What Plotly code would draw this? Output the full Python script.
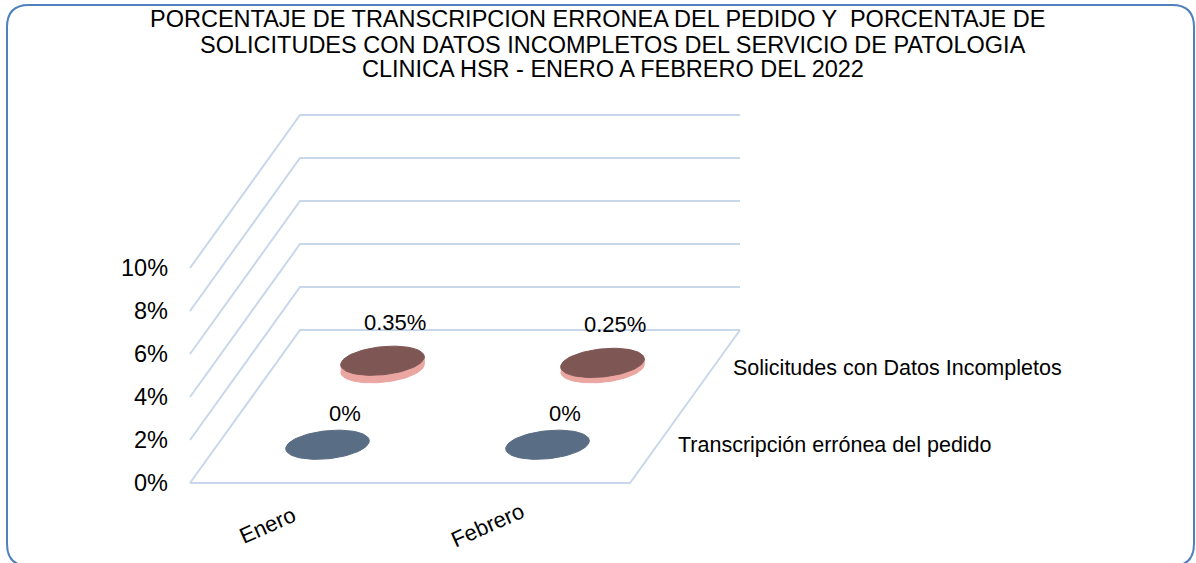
import numpy as np
import plotly.graph_objects as go

# ---------------- data ----------------
categories = ["Enero", "Febrero"]
series_names = ["Transcripción errónea del pedido", "Solicitudes con Datos Incompletos"]
transcripcion = [0.0, 0.0]      # percent
solicitudes = [0.35, 0.25]      # percent
labels_transcripcion = ["0%", "0%"]
labels_solicitudes = ["0.35%", "0.25%"]
y_ticks = [0, 2, 4, 6, 8, 10]
y_tick_labels = ["0%", "2%", "4%", "6%", "8%", "10%"]
title_lines = [
    "PORCENTAJE DE TRANSCRIPCION ERRONEA DEL PEDIDO Y  PORCENTAJE DE",
    "SOLICITUDES CON DATOS INCOMPLETOS DEL SERVICIO DE PATOLOGIA",
    "CLINICA HSR - ENERO A FEBRERO DEL 2022",
]

# ---------------- layout / projection constants ----------------
W, H = 1196, 563
X0_PX, Y0_PX = 190, 483          # pixel of the front-left floor corner
PX_PER_CAT = 220.0
PX_PER_PCT = 21.5
DEPTH_DX = 110.0 / PX_PER_CAT    # depth direction in data units (x)
DEPTH_DY = 153.0 / PX_PER_PCT    # depth direction in data units (y)
N_CAT = len(categories)

x_range = [-X0_PX / PX_PER_CAT, (W - X0_PX) / PX_PER_CAT]
y_range = [-(H - Y0_PX) / PX_PER_PCT, Y0_PX / PX_PER_PCT]


def proj(u, v, d):
    """category position u, value v (percent), depth d (0 front .. 1 back)"""
    return u + d * DEPTH_DX, v + d * DEPTH_DY


def ellipse(cx, cy, a_px=42, b_px=14, tilt_deg=6, t0=0, t1=2 * np.pi, n=80):
    t = np.linspace(t0, t1, n)
    th = np.radians(tilt_deg)
    dx = a_px * np.cos(t) * np.cos(th) - b_px * np.sin(t) * np.sin(th)
    dy = a_px * np.cos(t) * np.sin(th) + b_px * np.sin(t) * np.cos(th)
    return cx + dx / PX_PER_CAT, cy + dy / PX_PER_PCT


GRID = "#c8d7ea"
FONT = "Liberation Sans, Arial, sans-serif"

fig = go.Figure()

# gridlines (left wall + back wall)
for v in y_ticks:
    pts = [proj(0, v, 0), proj(0, v, 1), proj(N_CAT, v, 1)]
    fig.add_trace(go.Scatter(x=[p[0] for p in pts], y=[p[1] for p in pts], mode="lines",
                             line=dict(color=GRID, width=2), hoverinfo="skip", showlegend=False))
# floor front + right edges
pts = [proj(0, 0, 0), proj(N_CAT, 0, 0), proj(N_CAT, 0, 1)]
fig.add_trace(go.Scatter(x=[p[0] for p in pts], y=[p[1] for p in pts], mode="lines",
                         line=dict(color=GRID, width=2), hoverinfo="skip", showlegend=False))

series = [
    (transcripcion, labels_transcripcion, "#596d84", "#596d84", 31, 17),
    (solicitudes, labels_solicitudes, "#7e5654", "#eba6a2", 38, 12),
]
annotations = []
for s, (vals, labs, top_col, side_col, lab_dy, lab_dx) in enumerate(series):
    d = (s + 0.5) / len(series)
    for i, v in enumerate(vals):
        bx, by = proj(i + 0.5, 0, d)
        tx, ty = proj(i + 0.5, v, d)
        if v > 0:
            # side of the cylinder
            lx, ly = ellipse(bx, by, t0=np.pi, t1=2 * np.pi)
            ux, uy = ellipse(tx, ty, t0=2 * np.pi, t1=np.pi)
            fig.add_trace(go.Scatter(x=np.concatenate([lx, ux]), y=np.concatenate([ly, uy]),
                                     mode="lines", fill="toself", fillcolor=side_col,
                                     line=dict(color=side_col, width=1),
                                     hoverinfo="skip", showlegend=False))
        ex, ey = ellipse(tx, ty)
        fig.add_trace(go.Scatter(x=ex, y=ey, mode="lines", fill="toself", fillcolor=top_col,
                                 line=dict(color=top_col, width=1), name=series_names[s],
                                 hoverinfo="skip", showlegend=False))
        annotations.append(dict(x=tx, y=ty, xref="x", yref="y", text=labs[i], showarrow=False,
                                xshift=lab_dx, yshift=lab_dy, font=dict(size=22, color="#000000", family=FONT)))
    # series (depth axis) labels
    sx, sy = proj(N_CAT, 0, d)
    annotations.append(dict(x=sx, y=sy, xref="x", yref="y", text=series_names[s], showarrow=False,
                            xanchor="left", xshift=18, font=dict(size=21.5, color="#000000", family=FONT)))

# value axis tick labels
for v, t in zip(y_ticks, y_tick_labels):
    px_, py_ = proj(0, v, 0)
    annotations.append(dict(x=px_, y=py_, xref="x", yref="y", text=t, showarrow=False,
                            xanchor="right", xshift=-20, font=dict(size=23.5, color="#000000", family=FONT)))

# category labels
for i, c in enumerate(categories):
    cx, cy = proj(i + 0.5, 0, 0)
    annotations.append(dict(x=cx, y=cy, xref="x", yref="y", text=c, showarrow=False, textangle=-24,
                            xshift=-33, yshift=-42, font=dict(size=22, color="#000000", family=FONT)))

# title lines
title_pos = [(597, 19.5), (613, 45), (613, 69)]
for line, (tx, ty) in zip(title_lines, title_pos):
    annotations.append(dict(x=tx / W, y=1 - ty / H, xref="paper", yref="paper", text=line,
                            showarrow=False, xanchor="center", yanchor="middle",
                            font=dict(size=23.5, color="#000000", family=FONT)))

# rounded chart border
x0, x1 = 7 / W, 1194 / W
yt, yb = 1 - 5 / H, 1 - 566 / H
rx, ry = 22 / W, 22 / H
path = (f"M {x0+rx},{yt} L {x1-rx},{yt} Q {x1},{yt} {x1},{yt-ry} L {x1},{yb+ry} "
        f"Q {x1},{yb} {x1-rx},{yb} L {x0+rx},{yb} Q {x0},{yb} {x0},{yb+ry} "
        f"L {x0},{yt-ry} Q {x0},{yt} {x0+rx},{yt} Z")

fig.update_layout(
    width=W, height=H, autosize=False,
    margin=dict(l=0, r=0, t=0, b=0, pad=0),
    paper_bgcolor="white", plot_bgcolor="white",
    xaxis=dict(range=x_range, visible=False, fixedrange=True),
    yaxis=dict(range=y_range, visible=False, fixedrange=True),
    annotations=annotations,
    shapes=[dict(type="path", path=path, xref="paper", yref="paper",
                 line=dict(color="#4f81bd", width=2))],
    showlegend=False,
)

fig.write_html("out.html", config={"displayModeBar": False},
               post_script="document.body.style.margin='0';document.body.style.overflow='hidden';")
